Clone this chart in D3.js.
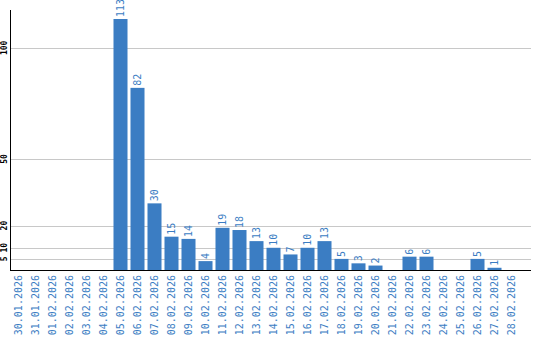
<!DOCTYPE html>
<html>
<head>
<meta charset="utf-8">
<script src="https://cdn.jsdelivr.net/npm/d3@7"></script>
<style>
  body { margin: 0; background: #fff; }
  svg { display: block; }
</style>
</head>
<body>
<div id="chart"></div>
<script>
// dates and counts
const dates = ["30.01.2026", "31.01.2026", "01.02.2026", "02.02.2026", "03.02.2026", "04.02.2026",
    "05.02.2026", "06.02.2026", "07.02.2026", "08.02.2026", "09.02.2026", "10.02.2026",
    "11.02.2026", "12.02.2026", "13.02.2026", "14.02.2026", "15.02.2026", "16.02.2026",
    "17.02.2026", "18.02.2026", "19.02.2026", "20.02.2026", "21.02.2026", "22.02.2026",
    "23.02.2026", "24.02.2026", "25.02.2026", "26.02.2026", "27.02.2026", "28.02.2026"];
const counts = [0, 0, 0, 0, 0, 0, 113, 82, 30, 15, 14, 4, 19, 18, 13, 10, 7, 10, 13, 5, 3, 2, 0, 6, 6, 0, 0, 5, 1, 0];
const yTicks = [5, 10, 20, 50, 100];

const data = dates.map((d, i) => ({ date: d, count: counts[i] }));

const width = 540, height = 340;
const plotLeft = 10, plotRight = 531, plotBottom = 270, plotTop = 19;
const blue = "#3b7dc3";

const svg = d3.select("#chart")
    .append("svg")
    .attr("width", width)
    .attr("height", height);

const x = d3.scaleBand()
    .domain(dates)
    .range([plotLeft, 520])
    .paddingInner(0.176)
    .paddingOuter(0.088);

const y = d3.scaleLinear()
    .domain([0, d3.max(counts)])
    .range([plotBottom, plotTop]);

// grid lines
svg.append("g")
    .selectAll("line")
    .data(yTicks)
    .enter().append("line")
    .attr("x1", plotLeft)
    .attr("x2", plotRight)
    .attr("y1", d => Math.round(y(d)) + 0.5)
    .attr("y2", d => Math.round(y(d)) + 0.5)
    .attr("stroke", "#c8c8c8");

// y tick labels, rotated
svg.append("g")
    .selectAll("text")
    .data(yTicks)
    .enter().append("text")
    .attr("transform", d => `translate(7,${y(d)}) rotate(-90)`)
    .attr("text-anchor", "middle")
    .style("font-family", "DejaVu Sans Mono")
    .style("font-size", "8px")
    .style("font-weight", "bold")
    .attr("fill", "#000")
    .text(d => d);

// bars
svg.selectAll(".bar")
    .data(data.filter(d => d.count > 0))
    .enter().append("rect")
    .attr("class", "bar")
    .attr("x", d => x(d.date))
    .attr("y", d => y(d.count))
    .attr("width", x.bandwidth())
    .attr("height", d => plotBottom - y(d.count))
    .attr("fill", blue);

// value labels
svg.selectAll(".val")
    .data(data.filter(d => d.count > 0))
    .enter().append("text")
    .attr("class", "val")
    .attr("transform", d => `translate(${x(d.date) + x.bandwidth() / 2},${y(d.count) - 2}) rotate(-90)`)
    .attr("dy", "0.35em")
    .style("font-family", "DejaVu Sans Mono")
    .style("font-size", "10px")
    .attr("fill", blue)
    .text(d => d.count);

// axis lines
svg.append("line")
    .attr("x1", plotLeft + 0.5).attr("x2", plotLeft + 0.5)
    .attr("y1", 10).attr("y2", plotBottom + 1)
    .attr("stroke", "#000");
svg.append("line")
    .attr("x1", plotLeft).attr("x2", plotRight)
    .attr("y1", plotBottom + 0.5).attr("y2", plotBottom + 0.5)
    .attr("stroke", "#000");

// date labels
svg.append("g")
    .selectAll("text")
    .data(dates)
    .enter().append("text")
    .attr("transform", d => `translate(${x(d) + x.bandwidth() / 2},275) rotate(-90)`)
    .attr("dy", "0.35em")
    .attr("text-anchor", "end")
    .style("font-family", "DejaVu Sans Mono")
    .style("font-size", "10px")
    .attr("fill", blue)
    .text(d => d);
</script>
</body>
</html>
